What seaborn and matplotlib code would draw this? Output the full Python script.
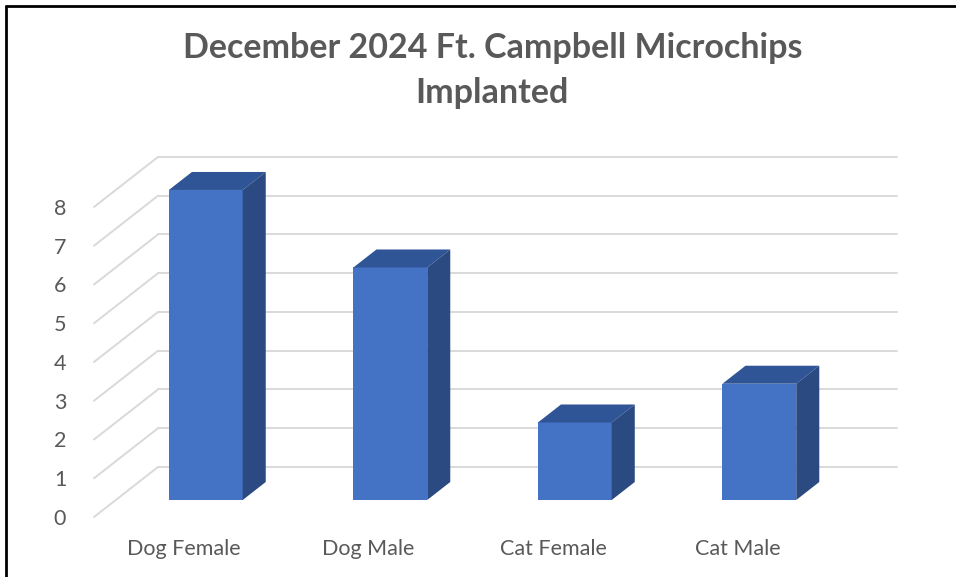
import matplotlib
matplotlib.use("Agg")
import matplotlib.pyplot as plt
import seaborn as sns
import pandas as pd
from matplotlib.patches import Polygon
from matplotlib.lines import Line2D

# chart data
categories = ["Dog Female", "Dog Male", "Cat Female", "Cat Male"]
counts = [8, 6, 2, 3]
y_ticks = [0, 1, 2, 3, 4, 5, 6, 7, 8]

sns.set_theme(style="white")
plt.rcParams['font.family'] = ['Lato', 'DejaVu Sans']

TEXT = '#595959'
GRID = '#d9d9d9'
FRONT = '#4472C4'
TOP = '#2F5597'
SIDE = '#2B4A82'

fig = plt.figure(figsize=(9.56, 5.77), dpi=100)
ax = fig.add_axes([94 / 956, 60 / 577, 803 / 956, 367 / 577])

df = pd.DataFrame({'category': categories, 'count': counts})
sns.barplot(data=df, x='category', y='count', color=FRONT, width=0.4,
            saturation=1, ax=ax, zorder=3)

ax.set_xlim(-0.488, 3.864)
ax.set_ylim(0, 9.47)

# depth of the 3-D box in data units (front wall -> back wall)
DX, DY = 64 / 184.5, 50 / 38.75
bar_d0, bar_d1 = 0.34, 0.70

x_left = -0.488
x_right = 3.864
for v in y_ticks:
    ax.add_line(Line2D([x_left, x_left + DX], [v, v + DY], color=GRID,
                       lw=1.4, zorder=1, clip_on=False))
    ax.add_line(Line2D([x_left + DX, x_right], [v + DY, v + DY], color=GRID,
                       lw=1.4, zorder=1, clip_on=False))

# shift bars into the middle of the box and add top / side faces
for p in ax.patches:
    x0, w, h = p.get_x(), p.get_width(), p.get_height()
    fx, fy = x0 + DX * bar_d0, DY * bar_d0
    bx, by = DX * (bar_d1 - bar_d0), DY * (bar_d1 - bar_d0)
    p.set_x(fx)
    p.set_y(fy)
    p.set_edgecolor('none')
    top = Polygon([(fx, fy + h), (fx + bx, fy + h + by),
                   (fx + w + bx, fy + h + by), (fx + w, fy + h)],
                  closed=True, facecolor=TOP, edgecolor='none', zorder=3)
    side = Polygon([(fx + w, fy), (fx + w + bx, fy + by),
                    (fx + w + bx, fy + h + by), (fx + w, fy + h)],
                   closed=True, facecolor=SIDE, edgecolor='none', zorder=3)
    ax.add_patch(top)
    ax.add_patch(side)

for s in ax.spines.values():
    s.set_visible(False)
ax.set_yticks(y_ticks)
ax.tick_params(axis='y', length=0, pad=20, labelsize=15.5, labelcolor=TEXT)
ax.tick_params(axis='x', length=0, pad=16, labelsize=15.5, labelcolor=TEXT)
ax.set_xlabel('')
ax.set_ylabel('')
ax.grid(False)

fig.text(0.515, 0.877, "December 2024 Ft. Campbell Microchips\nImplanted",
         ha='center', va='center', fontsize=24.5, fontweight='bold',
         color=TEXT, linespacing=1.5)

# outer frame (left and top edges)
fig.add_artist(Line2D([6 / 956, 6 / 956], [0, 1 - 6 / 577],
                      transform=fig.transFigure, color='black', lw=2))
fig.add_artist(Line2D([6 / 956, 1], [1 - 6 / 577, 1 - 6 / 577],
                      transform=fig.transFigure, color='black', lw=2))

fig.savefig('out.png', dpi=100, facecolor='white')
